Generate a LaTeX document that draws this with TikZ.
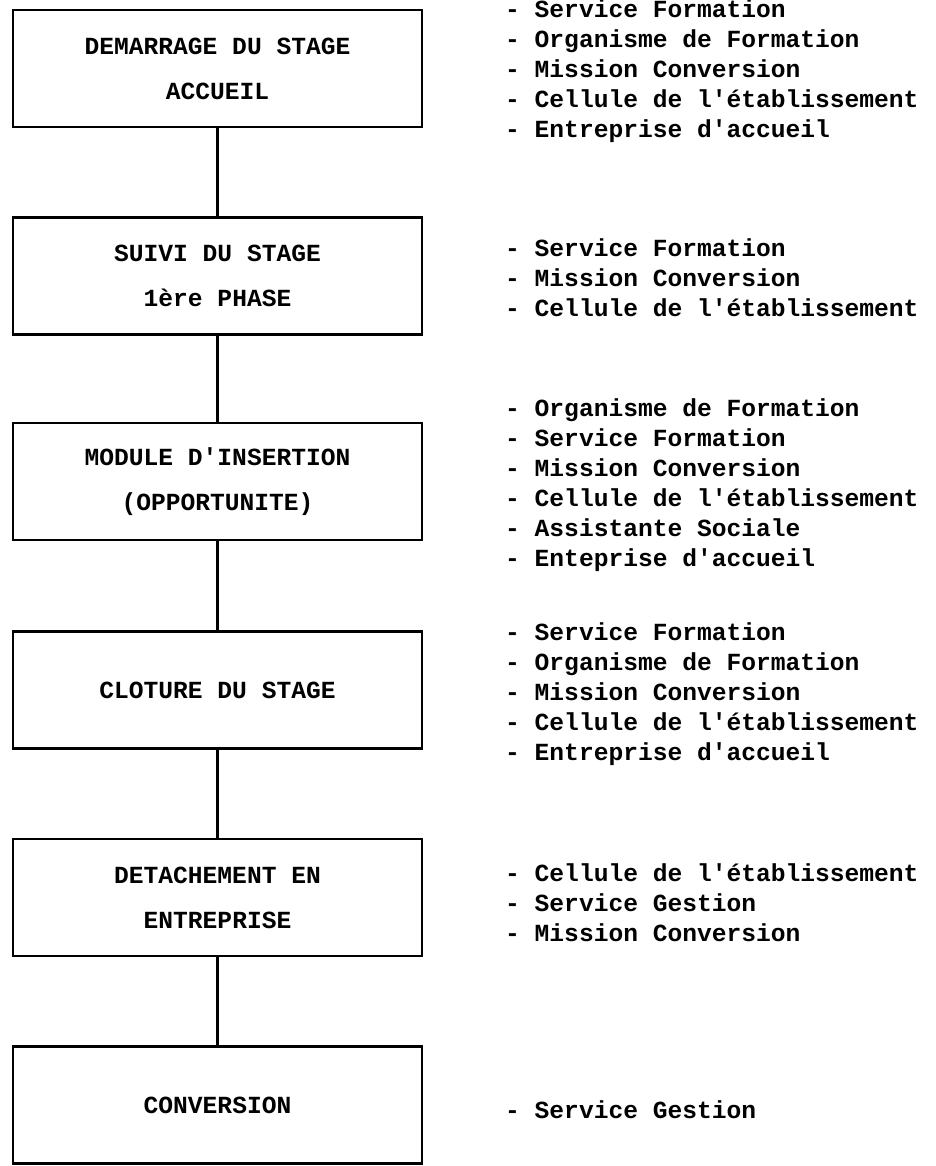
\documentclass[tikz,border=0pt]{standalone}
\usepackage{fontspec}
\newfontfamily\typewriter[Ligatures=TeXOff]{Liberation Mono}

\begin{document}
\begin{tikzpicture}[x=1pt, y=-1pt,
  stage/.style={rectangle, draw, line width=2.8pt, minimum width=409pt, minimum height=117pt, align=center, inner sep=0pt, font=\typewriter\bfseries\fontsize{24.6}{45}\selectfont},
  actors/.style={anchor=west, align=left, inner sep=0pt, font=\typewriter\bfseries\fontsize{24.6}{30}\selectfont},
  link/.style={line width=2.6pt, draw=black}
]
\useasboundingbox (0,0) rectangle (935,1166);
% etapes
\node[stage] (s1) at (217.5,68.5) {DEMARRAGE DU STAGE\\ACCUEIL};
\node[stage] (s2) at (217.5,276) {SUIVI DU STAGE\\1ère PHASE};
\node[stage] (s3) at (217.5,481.5) {MODULE D'INSERTION\\(OPPORTUNITE)};
\node[stage] (s4) at (217.5,690) {CLOTURE DU STAGE};
\node[stage] (s5) at (217.5,897.5) {DETACHEMENT EN\\ENTREPRISE};
\node[stage] (s6) at (217.5,1105) {CONVERSION};
% intervenants
\node[actors] (a1) at (505,71) {- Service Formation\\- Organisme de Formation\\- Mission Conversion\\- Cellule de l'établissement\\- Entreprise d'accueil};
\node[actors] (a2) at (505,278) {- Service Formation\\- Mission Conversion\\- Cellule de l'établissement};
\node[actors] (a3) at (505,485) {- Organisme de Formation\\- Service Formation\\- Mission Conversion\\- Cellule de l'établissement\\- Assistante Sociale\\- Enteprise d'accueil};
\node[actors] (a4) at (505,694) {- Service Formation\\- Organisme de Formation\\- Mission Conversion\\- Cellule de l'établissement\\- Entreprise d'accueil};
\node[actors] (a5) at (505,903) {- Cellule de l'établissement\\- Service Gestion\\- Mission Conversion};
\node[actors] (a6) at (505,1110) {- Service Gestion};
% liaisons
\draw[link] (s1) -- (s2);
\draw[link] (s2) -- (s3);
\draw[link] (s3) -- (s4);
\draw[link] (s4) -- (s5);
\draw[link] (s5) -- (s6);
\end{tikzpicture}
\end{document}
